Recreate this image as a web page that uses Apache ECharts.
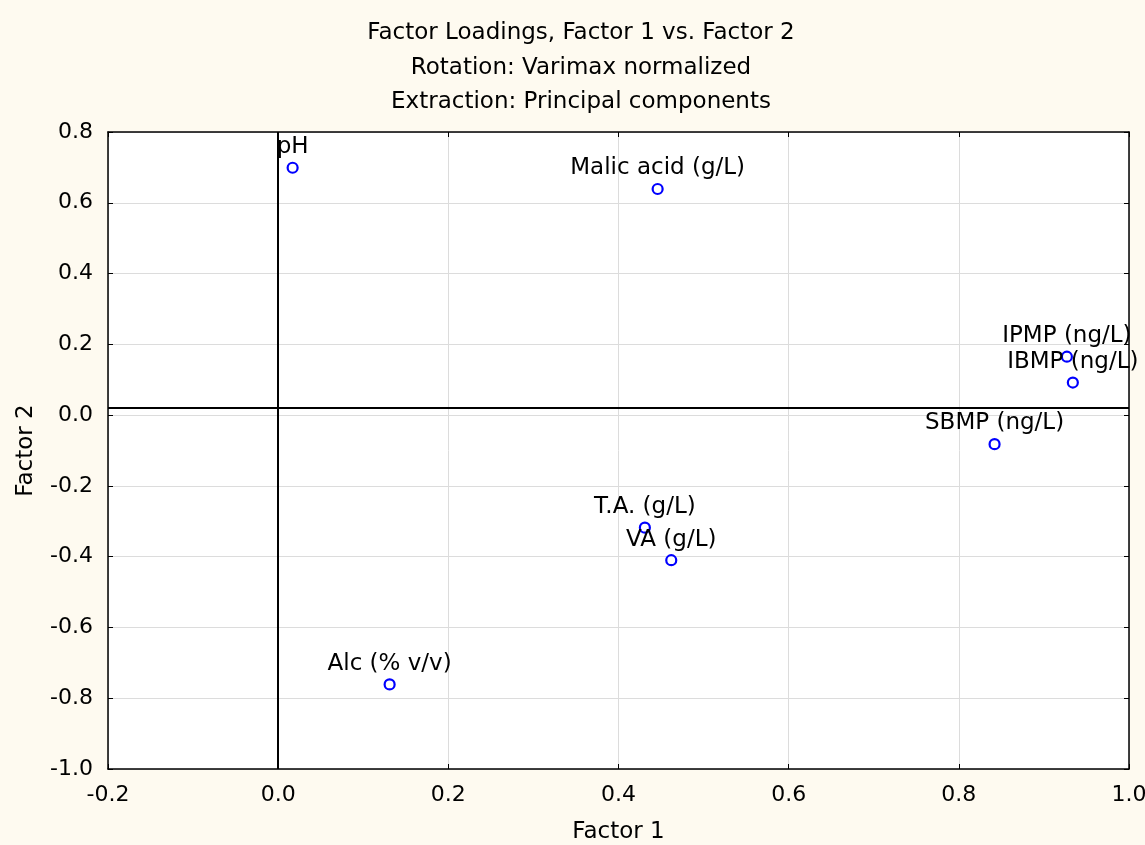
<!DOCTYPE html>
<html>
<head>
<meta charset="utf-8">
<script src="https://cdn.jsdelivr.net/npm/echarts@6/dist/echarts.min.js"></script>
<style>
html,body{margin:0;padding:0;background:#fefaf0;}
#c{width:1145px;height:845px;}
</style>
</head>
<body>
<div id="c"></div>
<script>
// Data
const names = ["pH", "Malic acid (g/L)", "IPMP (ng/L)", "IBMP (ng/L)", "SBMP (ng/L)", "T.A. (g/L)", "VA (g/L)", "Alc (% v/v)"];
const factor1 = [0.017, 0.446, 0.927, 0.934, 0.842, 0.431, 0.462, 0.131];
const factor2 = [0.699, 0.639, 0.165, 0.092, -0.082, -0.318, -0.410, -0.761];
const titleLines = ["Factor Loadings, Factor 1 vs. Factor 2", "Rotation: Varimax normalized", "Extraction: Principal components"];
const refX = 0.0;
const refY = 0.017;

const FONT = "DejaVu Sans";
const fmt = v => (Math.abs(v) < 1e-9 ? "0.0" : v.toFixed(1));

const chart = echarts.init(document.getElementById('c'), null, {renderer: 'canvas'});
const pts = names.map((n, i) => ({name: n, value: [factor1[i], factor2[i]]}));

const axisCommonX = {type: 'value', min: -0.2, max: 1.0, interval: 0.2};
const axisCommonY = {type: 'value', min: -1.0, max: 0.8, interval: 0.2};

chart.setOption({
  backgroundColor: '#fefaf0',
  animation: false,
  title: titleLines.map((t, i) => ({
    text: t, left: 576, top: 17 + i * 34.5, textAlign: 'center',
    textStyle: {fontFamily: FONT, fontSize: 23, fontWeight: 'normal', color: '#000'}
  })),
  grid: {left: 108, right: 16, top: 132, bottom: 76, containLabel: false, outerBoundsMode: 'none',
         show: true, backgroundColor: '#ffffff', borderWidth: 0},
  xAxis: [
    Object.assign({}, axisCommonX, {
      position: 'bottom',
      name: 'Factor 1', nameLocation: 'middle', nameGap: 52,
      nameTextStyle: {fontFamily: FONT, fontSize: 23, color: '#000'},
      axisLine: {show: true, onZero: false, lineStyle: {color: '#000', width: 1.5}},
      axisTick: {show: true, inside: true, length: 5, lineStyle: {color: '#000'}},
      axisLabel: {fontFamily: FONT, fontSize: 22, color: '#000', margin: 15, formatter: fmt},
      splitLine: {show: true, lineStyle: {color: '#dcdcdc', width: 1}}
    }),
    Object.assign({}, axisCommonX, {
      position: 'top',
      axisLine: {show: true, onZero: false, lineStyle: {color: '#000', width: 1.5}},
      axisTick: {show: true, inside: true, length: 5, lineStyle: {color: '#000'}},
      axisLabel: {show: false},
      splitLine: {show: false}
    })
  ],
  yAxis: [
    Object.assign({}, axisCommonY, {
      position: 'left',
      name: 'Factor 2', nameLocation: 'middle', nameGap: 70,
      nameTextStyle: {fontFamily: FONT, fontSize: 23, color: '#000'},
      axisLine: {show: true, onZero: false, lineStyle: {color: '#000', width: 1.5}},
      axisTick: {show: true, inside: true, length: 5, lineStyle: {color: '#000'}},
      axisLabel: {fontFamily: FONT, fontSize: 22, color: '#000', margin: 15, formatter: fmt},
      splitLine: {show: true, lineStyle: {color: '#dcdcdc', width: 1}}
    }),
    Object.assign({}, axisCommonY, {
      position: 'right',
      axisLine: {show: true, onZero: false, lineStyle: {color: '#000', width: 1.5}},
      axisTick: {show: true, inside: true, length: 5, lineStyle: {color: '#000'}},
      axisLabel: {show: false},
      splitLine: {show: false}
    })
  ],
  series: [{
    type: 'scatter',
    xAxisIndex: 0, yAxisIndex: 0,
    data: pts,
    symbol: 'circle',
    symbolSize: 10,
    itemStyle: {color: '#ffffff', borderColor: '#0000ff', borderWidth: 2.2, opacity: 1},
    label: {
      show: true, position: 'top', distance: 3,
      formatter: p => p.name,
      fontFamily: FONT, fontSize: 23, color: '#000000', opacity: 1
    },
    emphasis: {disabled: true},
    labelLayout: {hideOverlap: false},
    markLine: {
      silent: true, symbol: 'none', animation: false,
      label: {show: false},
      lineStyle: {color: '#000', width: 2, type: 'solid', opacity: 1},
      data: [{xAxis: refX}, {yAxis: refY}]
    },
    z: 5
  }]
});
</script>
</body>
</html>
